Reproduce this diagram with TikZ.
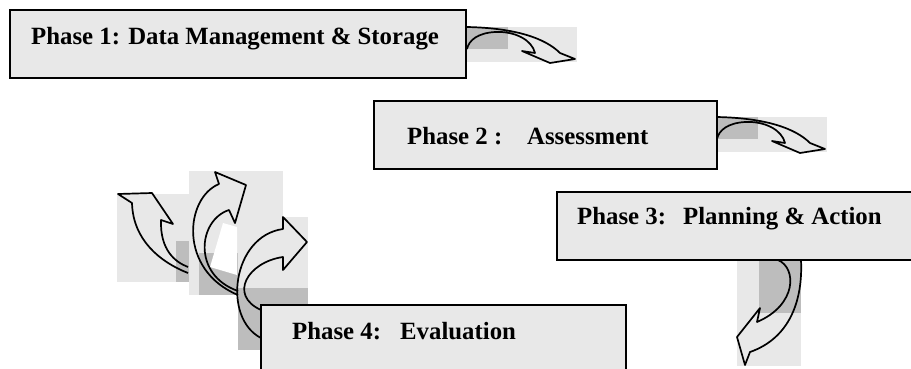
\documentclass[tikz,border=0pt]{standalone}
\usepackage{fontspec}
\setmainfont{Liberation Serif}
\definecolor{boxfill}{HTML}{E8E8E8}
\definecolor{shadelight}{HTML}{E8E8E8}
\definecolor{shadedark}{HTML}{BDBDBD}
\begin{document}
\begin{tikzpicture}[x=1pt,y=-1pt,
  phasebox/.style={draw=black, line width=1.7pt, fill=boxfill, anchor=north west, inner sep=0pt, outer sep=0pt},
  phasetext/.style={anchor=base west, inner sep=0pt, font=\fontsize{24.8}{28}\selectfont\bfseries},
  arrowline/.style={draw=black, line width=1.7pt, line join=round},
  lightpatch/.style={fill=shadelight},
  darkpatch/.style={fill=shadedark},
  curvedright/.pic={
    \fill[lightpatch] (0,0) rectangle (111,35);
    \fill[darkpatch] (0,0) rectangle (42,22);
    \draw[arrowline] (1,0) .. controls (49,1) and (79,11) .. (94,26) -- (109,32) -- (84,36) -- (56,24) -- (69,26)
      .. controls (66,13) and (49,4) .. (29,5) .. controls (12,6) and (3,13) .. (1,22);
  }]
\useasboundingbox (0,0) rectangle (911,368);

% shaded patches and arrows, left group
\fill[lightpatch] (117,194) rectangle (189,282);
\fill[darkpatch] (176,241) rectangle (189,282);
\fill[lightpatch] (189,171) rectangle (283,295);
\fill[lightpatch] (238,217) rectangle (308,288);
\fill[darkpatch] (199,253) rectangle (238,295);
\fill[darkpatch] (238,288) rectangle (308,350);
\fill[white] (210,267) -- (223,223) -- (237,227) -- (237,275) -- cycle;

\draw[arrowline] (188,273) .. controls (160,262) and (133,240) .. (132,203) -- (118,194) -- (152,193) -- (173,224) -- (161,220)
  .. controls (160,250) and (175,262) .. (188,267);
\draw[arrowline] (238,295) .. controls (178,270) and (185,198) .. (219,184) -- (215,172) -- (246,185) -- (235,223) -- (229,210)
  .. controls (198,220) and (192,275) .. (238,291);
\draw[arrowline] (261,338) .. controls (222,318) and (232,236) .. (283,229) -- (283,217) -- (307,242) -- (283,270) -- (283,257)
  .. controls (248,262) and (228,295) .. (261,310);

% arrows right of phases 1 and 2
\pic at (466,27) {curvedright};
\pic at (716,117) {curvedright};

% arrow below phase 3
\fill[lightpatch] (737,260) rectangle (801,366);
\fill[darkpatch] (759,260) rectangle (801,313);
\draw[arrowline] (801,260) .. controls (803,300) and (790,338) .. (750,352) -- (745,365) -- (737,337) -- (760,308) -- (757,322)
  .. controls (797,305) and (797,268) .. (778,260);

% phase boxes
\node[phasebox, minimum width=456pt, minimum height=68pt] (p1) at (10,10) {};
\node[phasebox, minimum width=343pt, minimum height=68pt] (p2) at (374,101) {};
\node[phasebox, minimum width=368pt, minimum height=68pt] (p3) at (557,192) {};
\node[phasebox, minimum width=365pt, minimum height=75pt] (p4) at (261,305) {};

\node[phasetext] (t1) at (31,44) {Phase 1: Data Management \& Storage};
\node[phasetext] (t2) at (407,144) {\makebox[120pt][l]{Phase 2 :}Assessment};
\node[phasetext] (t3) at (577,224.5) {\makebox[106pt][l]{Phase 3:}Planning \& Action};
\node[phasetext] (t4) at (292,339) {\makebox[108pt][l]{Phase 4:}Evaluation};
\end{tikzpicture}
\end{document}
